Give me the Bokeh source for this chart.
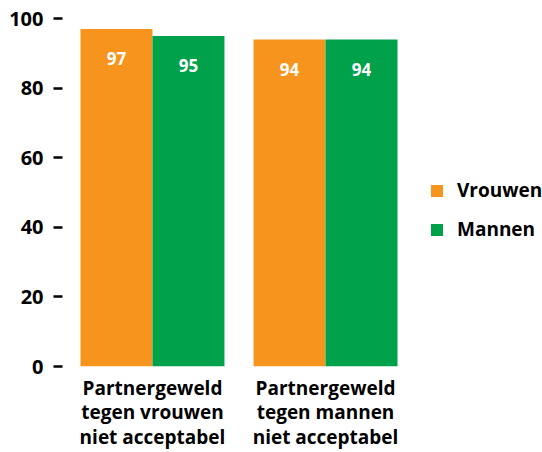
from bokeh.plotting import figure
from bokeh.models import FixedTicker, Legend, LegendItem, ColumnDataSource, Range1d
from bokeh.core.properties import value
from bokeh.embed import file_html
from bokeh.resources import INLINE

groups = ["Partnergeweld\ntegen vrouwen\nniet acceptabel", "Partnergeweld\ntegen mannen\nniet acceptabel"]
vrouwen = [97, 94]
mannen = [95, 94]
series_names = ["Vrouwen", "Mannen"]
y_ticks = [0, 20, 40, 60, 80, 100]

ORANGE = "#F7941D"
GREEN = "#00A14B"
FONT = "Open Sans"

bw = 0.416
idx = list(range(len(groups)))
src = ColumnDataSource(dict(
    xv=[i - bw / 2 for i in idx], xm=[i + bw / 2 for i in idx],
    v=vrouwen, m=mannen,
    vl=[str(x) for x in vrouwen], ml=[str(x) for x in mannen],
))

p = figure(x_range=Range1d(-0.52, 2.254), y_range=Range1d(0, 100),
           width=542, height=452, output_backend="svg", toolbar_location=None,
           min_border_left=62, min_border_top=18, min_border_bottom=84, min_border_right=0)
p.outline_line_color = None
p.xgrid.visible = False
p.ygrid.visible = False

r1 = p.vbar(x="xv", top="v", width=bw, source=src, fill_color=ORANGE, line_color=None)
r2 = p.vbar(x="xm", top="m", width=bw, source=src, fill_color=GREEN, line_color=None)

for xc, yc, tc in (("xv", "v", "vl"), ("xm", "m", "ml")):
    p.text(x=xc, y=yc, text=tc, source=src,
           text_color="white", text_font=value(FONT), text_font_style="bold",
           text_font_size="17px", text_align="center", text_baseline="middle", y_offset=30)

yax = p.yaxis[0]
yax.ticker = FixedTicker(ticks=y_ticks)
yax.axis_line_color = None
yax.minor_tick_line_color = None
yax.major_tick_in = 0
yax.major_tick_out = 9
yax.major_tick_line_width = 2.5
yax.major_tick_line_color = "black"
yax.major_label_standoff = 10
yax.major_label_text_font = FONT
yax.major_label_text_font_style = "bold"
yax.major_label_text_font_size = "20px"
yax.major_label_text_color = "black"

xax = p.xaxis[0]
xax.ticker = FixedTicker(ticks=idx)
xax.major_label_overrides = {i: g for i, g in zip(idx, groups)}
xax.axis_line_color = None
xax.major_tick_line_color = None
xax.minor_tick_line_color = None
xax.major_tick_in = 0
xax.major_tick_out = 0
xax.major_label_standoff = 8
xax.major_label_text_font = FONT
xax.major_label_text_font_style = "bold"
xax.major_label_text_font_size = "19px"
xax.major_label_text_color = "black"
xax.major_label_text_line_height = 0.95

legend = Legend(items=[LegendItem(label=series_names[0], renderers=[r1]),
                       LegendItem(label=series_names[1], renderers=[r2])],
                location=(367, 124), margin=0, padding=0, border_line_color=None,
                background_fill_alpha=0, glyph_width=15, glyph_height=15,
                label_height=20, spacing=13, label_standoff=13,
                label_text_font=FONT, label_text_font_style="bold",
                label_text_font_size="19px", label_text_color="black")
p.add_layout(legend, "center")

open("out.html", "w").write(file_html(p, INLINE))
